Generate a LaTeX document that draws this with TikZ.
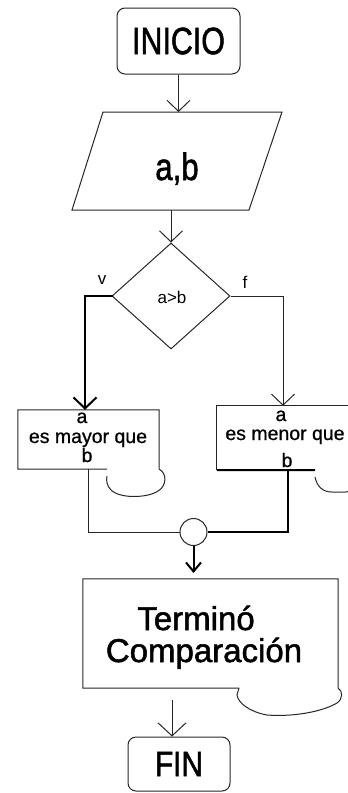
\documentclass[tikz,border=0pt]{standalone}
\usepackage{fontspec}
\setmainfont{Liberation Sans}
\newfontfamily\heavyfont[FakeBold=1.6]{Liberation Sans}
\newfontfamily\medfont[FakeBold=0.8]{Liberation Sans}
\usetikzlibrary{arrows.meta,shapes.geometric,calc}
\begin{document}
\begin{tikzpicture}[x=1pt,y=-1pt,
  ln/.style={line width=1pt, draw=black!85},
  thk/.style={line width=2pt, draw=black},
  arr/.style={-{Straight Barb[length=11pt,width=23pt]}},
  arrbig/.style={-{Straight Barb[length=13pt,width=28pt]}},
  arrsm/.style={-{Straight Barb[length=9pt,width=15pt]}},
  bigtxt/.style={font=\heavyfont\fontsize{38}{38}\selectfont},
  midtxt/.style={font=\heavyfont\fontsize{33}{33}\selectfont, inner sep=0pt, anchor=base},
  boxtxt/.style={font=\medfont\fontsize{19.5}{19.5}\selectfont, inner sep=0pt, anchor=base},
  smalltxt/.style={font=\fontsize{17}{17}\selectfont, inner sep=0pt},
  ghost/.style={draw=none, inner sep=0pt}
]
\useasboundingbox (0,0) rectangle (348,793);
\clip (0,0) rectangle (348,793);

% INICIO
\node[ln, draw, rounded corners=8pt, minimum width=123pt, minimum height=66pt, inner sep=0pt, bigtxt]
  (inicio) at (178.5,41) {\scalebox{0.8}[1]{INICIO}};

% input parallelogram
\coordinate (pTL) at (103,112);
\coordinate (pTR) at (282,112);
\coordinate (pBR) at (249,210);
\coordinate (pBL) at (72,210);
\draw[ln] (pTL) -- (pTR) -- (pBR) -- (pBL) -- cycle;
\node[bigtxt, inner sep=0pt, anchor=base] (ab) at (177,180) {\scalebox{0.82}[1]{a,b}};
\draw[ln, arr] (inicio.south) -- (inicio.south |- pTL);

% decision
\node[diamond, ln, draw, aspect=1.12, minimum width=118pt, minimum height=106pt, inner sep=0pt]
  (dec) at (171,296) {};
\node[smalltxt, anchor=base] (cond) at (172,303) {a>b};
\coordinate (pOut) at (171,210);
\draw[ln, arr] (pOut) -- (dec.north);

\node[smalltxt] (vlab) at (102,280) {v};
\node[smalltxt] (flab) at (245,282) {f};

% left box
\node[ghost, minimum width=141pt, minimum height=59pt] (lbox) at (88.5,439.5) {};
\draw[ln] (107,469) -- (lbox.south west) -- (lbox.north west) -- (lbox.north east) -- (lbox.south east);
\draw[ln] (lbox.south east) .. controls (167,473) and (167,486) .. (158,491)
  .. controls (148,498) and (120,499) .. (111,490)
  .. controls (107,486) and (106,481) .. (107,476);
\node[boxtxt] (la) at (82,423) {a};
\node[boxtxt] (lmid) at (88,443) {es mayor que};
\node[boxtxt] (lb) at (87,462) {b};

% right box
\node[ghost, minimum width=148pt, minimum height=64pt] (rbox) at (291,438) {};
\draw[ln] (rbox.north east) -- (rbox.north west) -- (rbox.south west);
\draw[thk] (rbox.south west) -- (315,470);
\draw[ln] (315,477) .. controls (317,486) and (322,492) .. (332,492) -- (345,492)
  .. controls (355,492) and (362,484) .. (365,470);
\node[boxtxt] (ra) at (281,421) {a};
\node[boxtxt] (rmid) at (285,440) {es menor que};
\node[boxtxt] (rb) at (287,467) {b};

% branches
\coordinate (vx) at (85,296);
\coordinate (fx) at (283,296);
\draw[thk, arr, line cap=rect] (dec.west) -- (vx) -- (vx |- lbox.north);
\draw[ln, arr] (dec.east) -- (fx) -- (fx |- rbox.north);

% merge
\node[circle, ln, draw, minimum size=27pt, inner sep=0pt] (merge) at (193.5,532) {};
\draw[ln] (lbox.south) -- (lbox.south |- merge) -- (merge.west);
\coordinate (rj) at (288,470);
\draw[thk] (merge.east) -- (merge.east -| rj) -- (rj);
\draw[thk, arrsm] (merge.south) -- ++(0,27);

% end box
\node[ghost, minimum width=255pt, minimum height=109pt] (tbox) at (210.5,633.5) {};
\draw[ln] (239,688) -- (tbox.south west) -- (tbox.north west) -- (tbox.north east) -- (tbox.south east);
\draw[ln] (tbox.south east) .. controls (343,691) and (343,699) .. (337,703)
  .. controls (322,712) and (292,717) .. (267,715)
  .. controls (250,712) and (238,703) .. (237,695) -- (239,688);
\node[midtxt] (t1) at (196,630) {Terminó};
\node[midtxt] (t2) at (204,662) {Comparación};

% FIN
\node[ln, draw, rounded corners=8pt, minimum width=102pt, minimum height=54pt, inner sep=0pt, bigtxt]
  (fin) at (179,764) {\scalebox{0.85}[1]{\fontsize{35}{35}\selectfont FIN}};
\coordinate (tOut) at (172,700);
\draw[ln, arrbig] (tOut) -- (tOut |- fin.north);
\end{tikzpicture}
\end{document}
